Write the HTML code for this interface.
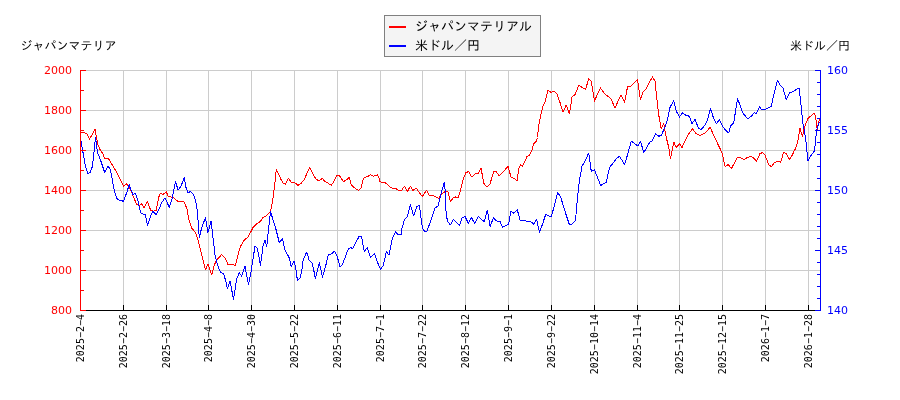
<!DOCTYPE html>
<html><head><meta charset="utf-8"><style>
html,body{margin:0;padding:0;background:#fff;width:900px;height:400px;overflow:hidden}
svg{display:block;will-change:transform}
.tl{font-family:"DejaVu Sans","Liberation Sans",sans-serif;font-size:11px}
.xl{font-family:"DejaVu Sans Mono","Liberation Mono",monospace;font-size:10px;fill:#000}
.jp{font-family:"Liberation Sans","IPAGothic","Noto Sans CJK JP",sans-serif;font-size:12px;fill:#000}
.lg{font-family:"Liberation Sans","IPAGothic","Noto Sans CJK JP",sans-serif;font-size:13px;fill:#000}
</style></head><body>
<svg width="900" height="400" viewBox="0 0 900 400">
<rect width="900" height="400" fill="#fff"/>
<path d="M123.50 70.50V310.50 M166.50 70.50V310.50 M208.50 70.50V310.50 M251.50 70.50V310.50 M294.50 70.50V310.50 M337.50 70.50V310.50 M380.50 70.50V310.50 M422.50 70.50V310.50 M465.50 70.50V310.50 M508.50 70.50V310.50 M551.50 70.50V310.50 M594.50 70.50V310.50 M637.50 70.50V310.50 M679.50 70.50V310.50 M722.50 70.50V310.50 M765.50 70.50V310.50 M808.50 70.50V310.50 M80.50 310.50H820.50 M80.50 270.50H820.50 M80.50 230.50H820.50 M80.50 190.50H820.50 M80.50 150.50H820.50 M80.50 110.50H820.50 M80.50 70.50H820.50" stroke="#cccccc" stroke-width="1" fill="none"/>
<polyline points="80.50,132.50 84.25,132.50 87.50,134.50 89.50,139.25 95.00,129.50 98.00,145.00 100.00,149.50 103.00,153.75 104.75,158.75 108.00,158.00 110.00,161.25 113.00,166.25 116.75,172.50 120.50,180.00 123.75,186.25 126.75,183.75 129.25,187.50 131.75,192.50 134.25,198.75 136.75,204.50 139.25,205.50 141.75,203.75 144.25,208.00 147.50,201.25 150.50,210.00 153.00,211.25 156.00,210.50 159.23,195.48 160.73,193.23 162.68,194.73 166.27,191.73 168.22,196.23 170.47,196.98 173.47,197.73 177.97,201.48 180.96,201.18 183.21,201.48 184.71,202.98 186.96,208.97 189.21,220.96 191.46,227.71 195.50,232.50 198.00,240.00 200.50,250.00 203.00,260.00 205.50,270.00 208.00,263.75 211.75,275.00 214.25,265.00 216.75,260.00 221.75,254.50 225.50,258.75 228.00,264.50 231.75,264.50 235.50,265.50 238.00,255.00 240.50,246.25 244.25,240.00 248.00,237.00 250.50,232.50 253.00,227.50 256.75,223.75 260.50,221.25 263.00,217.50 266.75,215.50 270.50,211.25 272.50,201.67 274.67,185.00 276.33,169.17 278.33,173.33 280.83,179.17 283.33,183.33 285.33,184.17 288.33,178.33 291.33,182.17 294.17,182.17 298.00,185.33 300.83,183.67 304.17,179.67 306.67,174.17 309.50,167.50 311.67,170.83 314.17,176.67 316.67,179.67 319.17,180.83 322.50,178.33 325.00,181.67 328.33,183.33 331.33,185.33 334.17,180.83 337.00,175.00 339.67,175.83 343.33,181.67 346.33,180.00 349.17,177.50 351.33,185.00 353.33,187.00 355.83,188.67 358.33,190.33 360.83,188.33 363.33,178.33 365.00,177.17 367.50,176.67 370.33,174.67 373.33,176.33 375.00,175.83 377.50,174.67 379.17,178.33 380.00,181.85 384.50,182.38 386.00,183.35 390.50,187.40 392.75,188.38 395.75,188.60 398.38,190.25 401.75,190.25 404.38,186.12 407.38,191.60 410.38,186.12 413.00,190.40 416.38,188.22 418.62,191.75 422.38,196.62 426.50,190.10 429.12,195.35 433.25,195.35 438.50,198.50 440.00,196.25 443.00,193.00 446.00,191.00 448.00,192.00 450.40,202.00 453.00,198.00 455.60,197.00 458.00,198.00 460.00,192.00 463.00,180.00 466.00,172.40 469.00,171.60 471.60,177.00 475.00,174.00 478.00,173.60 481.00,168.40 484.00,183.60 487.00,187.00 490.00,184.00 493.60,171.60 496.00,171.00 499.00,176.00 504.00,171.00 508.00,166.40 511.00,177.00 515.00,179.00 517.00,181.00 518.75,168.75 520.50,165.00 522.50,166.25 525.00,161.25 527.00,156.25 529.50,155.50 532.00,150.00 533.75,143.75 536.25,141.25 537.50,137.50 538.75,125.00 540.50,116.25 542.50,107.50 545.00,102.00 546.25,97.50 548.00,90.00 551.25,92.50 553.75,91.25 557.00,93.75 560.00,102.50 563.00,112.00 566.25,105.00 569.50,113.75 572.00,97.00 575.00,94.50 578.75,85.50 582.50,87.50 585.50,89.50 588.75,78.75 591.25,81.25 594.50,101.25 597.50,93.75 600.50,88.00 604.50,93.75 608.00,96.25 611.25,99.50 615.00,108.00 618.00,101.25 621.25,95.00 624.50,102.50 627.50,87.00 630.50,86.25 633.75,83.00 637.50,80.00 640.50,100.00 643.00,92.00 646.25,88.75 650.00,81.25 652.50,77.00 655.00,81.25 657.00,100.00 658.75,115.00 661.25,128.75 663.75,123.75 666.25,137.50 668.75,147.50 670.50,158.75 673.75,142.00 676.25,147.50 679.50,143.75 682.00,147.50 685.00,141.25 688.75,133.75 692.50,128.75 696.25,133.75 700.00,135.50 703.75,133.75 707.00,131.25 710.00,127.00 712.50,132.50 715.89,140.00 721.22,151.11 722.56,154.22 724.78,165.78 725.67,166.22 728.33,164.44 731.44,168.62 734.11,163.56 737.22,157.33 739.89,157.33 743.89,159.56 747.00,157.78 750.11,156.44 753.22,157.33 756.33,161.33 759.89,153.78 762.56,152.44 764.78,154.67 768.78,164.89 771.44,166.49 774.11,163.11 777.22,161.33 780.78,162.22 783.44,152.44 786.11,153.33 789.22,159.56 792.33,155.11 794.82,149.33 795.00,150.00 797.50,142.50 800.00,128.50 802.50,137.00 804.00,129.00 806.00,123.00 808.00,118.50 813.00,114.00 814.80,113.50 816.00,120.00 817.20,129.50 818.50,123.00 819.50,119.50" fill="none" stroke="#ff0000" stroke-width="1" stroke-linejoin="round" shape-rendering="crispEdges"/>
<polyline points="81.00,141.25 83.00,152.50 85.50,166.25 88.00,173.75 90.00,172.50 92.50,166.25 95.50,137.50 97.50,152.50 100.50,160.00 103.00,167.50 104.75,172.50 108.00,166.25 110.00,168.75 111.75,176.25 113.50,187.50 115.50,195.00 117.50,199.50 120.50,200.50 123.50,201.25 126.75,192.50 129.25,184.50 131.00,190.00 133.00,194.50 135.50,193.25 138.00,201.25 140.50,212.50 143.50,214.50 145.50,215.00 147.50,225.50 150.50,216.25 153.00,211.25 156.00,214.50 159.25,208.75 161.75,202.50 165.00,198.00 166.75,201.25 169.25,207.50 171.75,200.00 175.50,181.25 178.00,190.00 181.00,186.25 184.25,177.50 186.00,187.50 188.00,193.00 190.50,191.25 193.50,194.50 195.50,200.00 197.50,212.50 199.25,237.50 201.75,227.50 205.50,217.50 208.00,232.50 211.00,221.25 213.00,237.50 215.00,255.00 217.50,265.00 220.50,272.50 223.50,273.75 225.50,280.00 227.50,288.75 230.00,281.25 231.75,290.00 233.50,299.50 236.75,278.75 239.25,272.50 241.75,276.25 245.00,266.25 248.50,285.00 250.50,275.00 255.00,246.25 257.50,248.75 260.50,265.50 263.00,246.25 265.00,240.00 266.75,246.25 270.50,211.25 273.00,220.00 275.50,227.50 279.25,242.50 282.50,238.75 285.00,250.13 287.81,255.20 289.50,258.57 291.19,266.45 294.01,261.39 294.57,262.51 296.26,271.52 297.38,280.53 300.20,277.71 301.89,269.83 303.01,261.39 304.14,258.01 306.39,252.38 307.51,254.63 309.20,260.26 312.02,263.08 313.71,269.83 315.39,278.84 317.08,271.52 319.33,262.51 321.02,270.39 322.37,277.15 323.84,272.65 326.09,264.20 327.78,256.89 328.34,254.07 330.03,254.63 331.72,253.51 334.53,251.26 337.35,256.89 338.47,261.39 340.16,267.02 342.41,264.20 344.66,258.57 348.05,249.50 350.30,247.70 353.00,248.38 356.38,241.62 359.30,236.00 361.55,236.45 364.25,251.75 367.18,247.70 370.55,257.38 374.38,253.55 377.75,263.00 380.68,269.30 383.38,265.25 386.30,251.75 389.00,255.12 392.38,238.25 395.75,231.50 398.00,234.88 401.38,234.88 402.00,228.00 404.40,220.00 407.60,216.00 410.40,204.40 413.60,216.00 417.00,206.40 419.40,205.60 422.40,228.00 425.00,232.00 427.00,231.00 431.00,220.00 435.00,208.00 438.00,206.00 442.00,190.00 444.40,182.00 445.60,196.00 446.11,213.94 447.58,221.28 450.39,224.94 453.20,219.44 459.56,225.31 462.00,218.22 465.06,216.39 468.36,223.36 471.53,217.61 474.59,223.36 478.50,216.39 484.24,221.89 487.30,210.28 490.11,226.53 493.41,217.61 496.47,220.91 499.89,221.28 502.58,227.39 507.22,224.94 508.69,224.33 510.89,210.89 513.94,213.33 517.24,209.67 520.06,220.06 524.33,220.91 530.44,221.28 533.87,224.33 536.56,219.44 539.61,232.28 542.67,223.72 545.72,214.31 549.88,216.39 551.25,217.00 554.50,205.00 557.50,193.00 560.50,196.25 563.75,207.50 567.00,217.50 569.50,225.00 572.50,223.75 575.50,220.50 577.50,197.50 579.50,180.00 582.00,166.25 585.50,160.00 588.75,153.00 591.25,171.25 594.50,170.00 597.50,177.50 600.75,185.50 603.75,183.75 606.25,182.50 609.50,167.50 612.50,163.75 616.25,158.75 619.25,156.25 622.00,160.00 624.50,164.50 627.50,155.00 631.25,141.25 635.00,143.75 638.00,146.25 640.50,141.25 643.75,152.50 646.25,148.75 649.50,142.50 652.50,140.50 655.50,133.75 658.75,136.25 661.25,135.50 663.75,130.00 667.00,121.25 670.00,107.50 673.75,100.50 676.25,111.25 679.50,117.00 682.50,113.00 686.25,115.50 689.50,116.25 692.00,123.75 695.00,119.50 698.75,128.75 701.25,129.50 705.00,125.00 707.50,120.00 710.50,108.75 713.75,118.75 716.25,123.75 719.50,119.50 722.50,126.25 725.50,130.00 728.75,133.00 730.50,126.25 733.75,122.50 737.50,98.75 740.00,105.00 742.50,112.50 745.50,116.25 748.00,118.75 751.25,116.25 754.50,112.50 756.25,113.75 759.50,107.00 762.00,110.00 765.50,109.50 768.75,107.50 771.25,106.25 773.75,95.00 777.50,80.50 780.00,85.00 783.00,88.00 786.25,100.00 789.50,92.50 792.50,92.00 796.25,89.50 799.25,88.00 801.25,107.50 803.00,123.75 805.50,137.50 808.00,161.25 811.25,155.00 814.25,151.25 815.50,143.00 816.30,132.00 817.50,127.50 819.50,122.00" fill="none" stroke="#0000ff" stroke-width="1" stroke-linejoin="round" shape-rendering="crispEdges"/>
<path d="M80.50 310.50H820.50" stroke="#000" stroke-width="1"/>
<path d="M80.50 70.00V311.00" stroke="#ff0000" stroke-width="1"/>
<path d="M820.50 70.00V311.00" stroke="#0000ff" stroke-width="1"/>
<path d="M123.50 311.00V305.00 M166.50 311.00V305.00 M208.50 311.00V305.00 M251.50 311.00V305.00 M294.50 311.00V305.00 M337.50 311.00V305.00 M380.50 311.00V305.00 M422.50 311.00V305.00 M465.50 311.00V305.00 M508.50 311.00V305.00 M551.50 311.00V305.00 M594.50 311.00V305.00 M637.50 311.00V305.00 M679.50 311.00V305.00 M722.50 311.00V305.00 M765.50 311.00V305.00 M808.50 311.00V305.00" stroke="#000" stroke-width="1"/>
<path d="M80.00 310.50H86.00 M80.00 290.50H84.00 M80.00 270.50H86.00 M80.00 250.50H84.00 M80.00 230.50H86.00 M80.00 210.50H84.00 M80.00 190.50H86.00 M80.00 170.50H84.00 M80.00 150.50H86.00 M80.00 130.50H84.00 M80.00 110.50H86.00 M80.00 90.50H84.00 M80.00 70.50H86.00" stroke="#ff0000" stroke-width="1"/>
<path d="M821.00 310.50H815.00 M821.00 298.50H817.00 M821.00 286.50H817.00 M821.00 274.50H817.00 M821.00 262.50H817.00 M821.00 250.50H815.00 M821.00 238.50H817.00 M821.00 226.50H817.00 M821.00 214.50H817.00 M821.00 202.50H817.00 M821.00 190.50H815.00 M821.00 178.50H817.00 M821.00 166.50H817.00 M821.00 154.50H817.00 M821.00 142.50H817.00 M821.00 130.50H815.00 M821.00 118.50H817.00 M821.00 106.50H817.00 M821.00 94.50H817.00 M821.00 82.50H817.00 M821.00 70.50H815.00" stroke="#0000ff" stroke-width="1"/>
<text x="72" y="313.50" text-anchor="end" class="tl" fill="#ff0000">800</text>
<text x="72" y="273.50" text-anchor="end" class="tl" fill="#ff0000">1000</text>
<text x="72" y="233.50" text-anchor="end" class="tl" fill="#ff0000">1200</text>
<text x="72" y="193.50" text-anchor="end" class="tl" fill="#ff0000">1400</text>
<text x="72" y="153.50" text-anchor="end" class="tl" fill="#ff0000">1600</text>
<text x="72" y="113.50" text-anchor="end" class="tl" fill="#ff0000">1800</text>
<text x="72" y="73.50" text-anchor="end" class="tl" fill="#ff0000">2000</text>
<text x="827" y="313.50" class="tl" fill="#0000ff">140</text>
<text x="827" y="253.50" class="tl" fill="#0000ff">145</text>
<text x="827" y="193.50" class="tl" fill="#0000ff">150</text>
<text x="827" y="133.50" class="tl" fill="#0000ff">155</text>
<text x="827" y="73.50" class="tl" fill="#0000ff">160</text>
<text transform="translate(80.50,314) rotate(-90)" x="0" y="0" text-anchor="end" dy="3.5" class="xl">2025−2−4</text>
<text transform="translate(123.50,314) rotate(-90)" x="0" y="0" text-anchor="end" dy="3.5" class="xl">2025−2−26</text>
<text transform="translate(166.50,314) rotate(-90)" x="0" y="0" text-anchor="end" dy="3.5" class="xl">2025−3−18</text>
<text transform="translate(208.50,314) rotate(-90)" x="0" y="0" text-anchor="end" dy="3.5" class="xl">2025−4−8</text>
<text transform="translate(251.50,314) rotate(-90)" x="0" y="0" text-anchor="end" dy="3.5" class="xl">2025−4−30</text>
<text transform="translate(294.50,314) rotate(-90)" x="0" y="0" text-anchor="end" dy="3.5" class="xl">2025−5−22</text>
<text transform="translate(337.50,314) rotate(-90)" x="0" y="0" text-anchor="end" dy="3.5" class="xl">2025−6−11</text>
<text transform="translate(380.50,314) rotate(-90)" x="0" y="0" text-anchor="end" dy="3.5" class="xl">2025−7−1</text>
<text transform="translate(422.50,314) rotate(-90)" x="0" y="0" text-anchor="end" dy="3.5" class="xl">2025−7−22</text>
<text transform="translate(465.50,314) rotate(-90)" x="0" y="0" text-anchor="end" dy="3.5" class="xl">2025−8−12</text>
<text transform="translate(508.50,314) rotate(-90)" x="0" y="0" text-anchor="end" dy="3.5" class="xl">2025−9−1</text>
<text transform="translate(551.50,314) rotate(-90)" x="0" y="0" text-anchor="end" dy="3.5" class="xl">2025−9−22</text>
<text transform="translate(594.50,314) rotate(-90)" x="0" y="0" text-anchor="end" dy="3.5" class="xl">2025−10−14</text>
<text transform="translate(637.50,314) rotate(-90)" x="0" y="0" text-anchor="end" dy="3.5" class="xl">2025−11−4</text>
<text transform="translate(679.50,314) rotate(-90)" x="0" y="0" text-anchor="end" dy="3.5" class="xl">2025−11−25</text>
<text transform="translate(722.50,314) rotate(-90)" x="0" y="0" text-anchor="end" dy="3.5" class="xl">2025−12−15</text>
<text transform="translate(765.50,314) rotate(-90)" x="0" y="0" text-anchor="end" dy="3.5" class="xl">2026−1−7</text>
<text transform="translate(808.50,314) rotate(-90)" x="0" y="0" text-anchor="end" dy="3.5" class="xl">2026−1−28</text>
<text x="20.4" y="50" class="jp">ジャパンマテリア</text>
<text x="850" y="50" text-anchor="end" class="jp">米ドル／円</text>
<rect x="384.5" y="15.5" width="156" height="41" fill="#f4f4f4" stroke="#808080" stroke-width="1"/>
<path d="M389 27H406" stroke="#ff0000" stroke-width="2"/>
<path d="M389 46H406" stroke="#0000ff" stroke-width="2"/>
<text x="415" y="30.75" class="lg">ジャパンマテリアル</text>
<text x="415" y="49.9" class="lg">米ドル／円</text>
</svg>
</body></html>
